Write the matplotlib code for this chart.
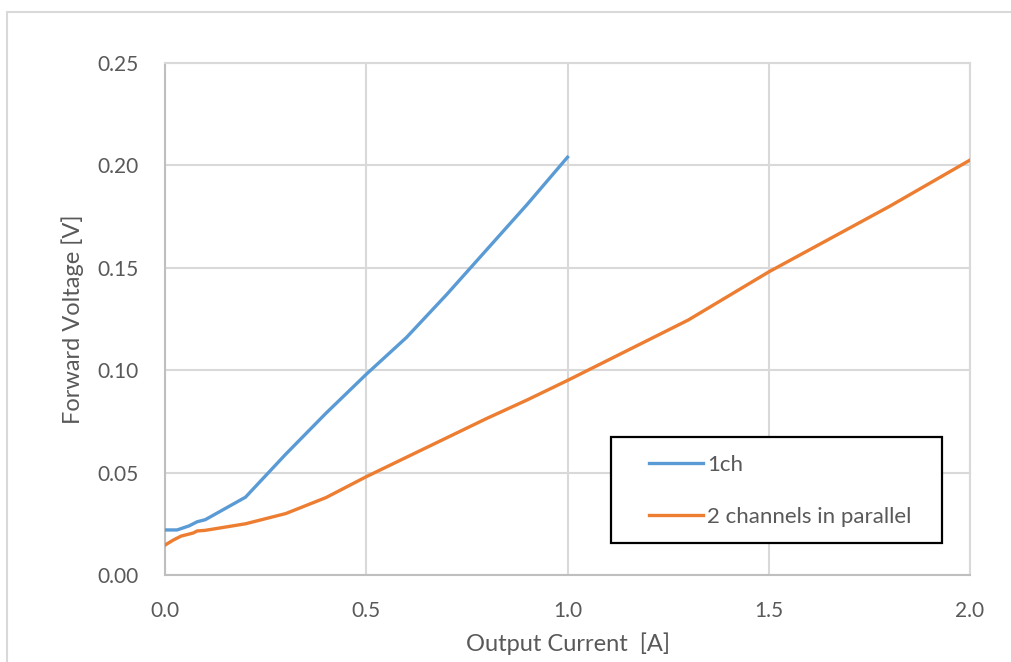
import matplotlib.pyplot as plt
from matplotlib.patches import Rectangle

# forward voltage vs. output current
current_1ch = [0.0, 0.03, 0.06, 0.08, 0.1, 0.2, 0.3, 0.4, 0.5, 0.6, 0.7, 0.8, 0.9, 1.0]
voltage_1ch = [0.022, 0.022, 0.024, 0.026, 0.027, 0.038, 0.059, 0.079, 0.098, 0.116,
               0.137, 0.159, 0.181, 0.204]

current_2ch = [0.0, 0.02, 0.04, 0.07, 0.08, 0.1, 0.2, 0.3, 0.4, 0.5, 0.6, 0.7, 0.8, 0.9,
               1.0, 1.3, 1.5, 1.8, 2.0]
voltage_2ch = [0.0146, 0.017, 0.019, 0.0205, 0.0215, 0.0218, 0.025, 0.030, 0.0378, 0.048,
               0.0575, 0.067, 0.0765, 0.0855, 0.095, 0.1245, 0.148, 0.180, 0.2026]

labels = ['1ch', '2 channels in parallel']
x_ticks = [0.0, 0.5, 1.0, 1.5, 2.0]
y_ticks = [0.0, 0.05, 0.10, 0.15, 0.20, 0.25]

plt.rcParams['font.family'] = ['Lato', 'DejaVu Sans']
grey_text = '#595959'
grid_col = '#D9D9D9'

fig = plt.figure(figsize=(10.11, 6.62), dpi=100)
ax = fig.add_axes([165 / 1011, 1 - 575 / 662, 805 / 1011, 512 / 662])

# chart-area border (only top and left edges are inside the picture)
fig.patches.append(Rectangle((7 / 1011, -0.5), 1.5, 1.5 - 11.5 / 662,
                             transform=fig.transFigure, fill=False,
                             edgecolor=grid_col, linewidth=1.5, zorder=0))

ax.plot(current_1ch, voltage_1ch, color='#5B9BD5', linewidth=2.4, label=labels[0],
        solid_joinstyle='round', zorder=3)
ax.plot(current_2ch, voltage_2ch, color='#ED7D31', linewidth=2.4, label=labels[1],
        solid_joinstyle='round', zorder=3)

ax.set_xlim(0, 2.0)
ax.set_ylim(0, 0.25)
ax.set_xticks(x_ticks)
ax.set_yticks(y_ticks)
ax.set_xticklabels([f'{v:.1f}' for v in x_ticks])
ax.set_yticklabels([f'{v:.2f}' for v in y_ticks])
ax.tick_params(length=0, labelsize=15, colors=grey_text)
ax.tick_params(axis='y', pad=19)
ax.tick_params(axis='x', pad=19)
ax.grid(True, color=grid_col, linewidth=1.5)
ax.set_axisbelow(True)
for side in ax.spines.values():
    side.set_color(grid_col)
    side.set_linewidth(1.5)
ax.spines['left'].set_color('#BFBFBF')
ax.spines['bottom'].set_color('#BFBFBF')

ax.set_xlabel('Output Current  [A]', fontsize=17, color=grey_text, va='center')
ax.set_ylabel('Forward Voltage [V]', fontsize=17, color=grey_text, va='center')
ax.xaxis.set_label_coords(0.5, -0.135)
ax.yaxis.set_label_coords(-0.115, 0.5)

# legend box drawn separately so its size matches the reference
ax.add_patch(Rectangle((0.554, 0.0625), 0.411, 0.207, transform=ax.transAxes,
                       facecolor='white', edgecolor='black', linewidth=1.6, zorder=4))
leg = ax.legend(loc='upper left', bbox_to_anchor=(0.601, 0.234), fontsize=16,
                frameon=False, borderpad=0, borderaxespad=0, labelspacing=1.42,
                handlelength=2.43, handletextpad=0.18)
leg.set_zorder(5)
for t in leg.get_texts():
    t.set_color(grey_text)

fig.savefig('out.png', dpi=100)
